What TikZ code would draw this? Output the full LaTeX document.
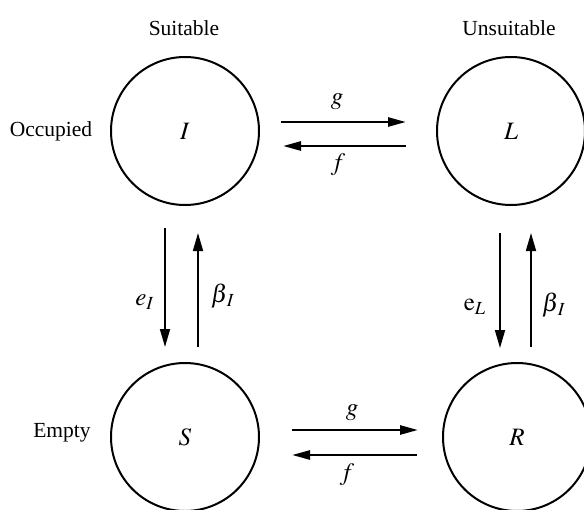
\documentclass[tikz,border=0pt]{standalone}
\usepackage{mathptmx}
\usepackage{fontspec}
\setmainfont{Liberation Serif}
\usetikzlibrary{arrows.meta,calc}

\begin{document}
\begin{tikzpicture}[
  x=0.5pt, y=-0.5pt,
  every node/.style={font=\fontsize{10.75}{13}\selectfont, inner sep=0pt},
  sym/.style={font=\fontsize{12.5}{15}\selectfont},
  patch/.style={draw, circle, line width=1pt, minimum size=74pt, sym},
  flow/.style={-{Triangle[length=9pt,width=4.5pt]}, line width=1.3pt},
  swap/.style={-{Triangle[length=9pt,width=5pt]}, line width=0.85pt}
]
  \useasboundingbox (0,0) rectangle (584,509);
  % patch states
  \node[patch] (I) at (185,131) {$I$};
  \node[patch] (L) at (511,131) {$L$};
  \node[patch] (S) at (185,437) {$S$};
  \node[patch] (R) at (517,437) {$R$};
  % headings
  \node (suit)   at (184,28)  {Suitable};
  \node (unsuit) at (509,28)  {Unsuitable};
  \node (occ)    at (51,131)  {Occupied};
  \node (empty)  at (62,433)  {Empty};
  % horizontal transitions
  \draw[flow, shorten <=10.5pt, shorten >=15pt] ($(I.east)+(0,-9)$) -- ($(L.west)+(0,-9)$);
  \draw[flow, shorten <=15pt, shorten >=11.5pt] ($(L.west)+(0,15)$) -- ($(I.east)+(0,15)$);
  \draw[flow, shorten <=16pt, shorten >=12pt] ($(S.east)+(0,-7)$) -- ($(R.west)+(0,-7)$);
  \draw[flow, shorten <=12.5pt, shorten >=16pt] ($(R.west)+(0,18)$) -- ($(S.east)+(0,18)$);
  \node[sym] (gtop) at (337,102) {$g$};
  \node[sym] (ftop) at (338,165) {$f$};
  \node[sym] (gbot) at (352,413) {$g$};
  \node[sym] (fbot) at (347,475) {$f$};
  % vertical transitions
  \draw[swap, shorten <=11pt, shorten >=7.5pt] ($(I.south)+(-20,0)$) -- ($(S.north)+(-20,0)$);
  \draw[swap, shorten <=7.5pt, shorten >=13.5pt] ($(S.north)+(13,0)$) -- ($(I.south)+(13,0)$);
  \draw[swap, shorten <=13.5pt, shorten >=7pt] ($(L.south)+(-11,0)$) -- ($(R.north)+(-17,0)$);
  \draw[swap, shorten <=7.5pt, shorten >=13.5pt] ($(R.north)+(14,0)$) -- ($(L.south)+(20,0)$);
  \node[sym] (eI)  at (145,302) {$e_I$};
  \node[sym] (bI)  at (223,296) {$\beta_{\,I}$};
  \node[sym] (eL)  at (475,307) {$\mathrm{e}_L$};
  \node[sym] (bL)  at (554,305) {$\beta_{\,I}$};
\end{tikzpicture}
\end{document}
